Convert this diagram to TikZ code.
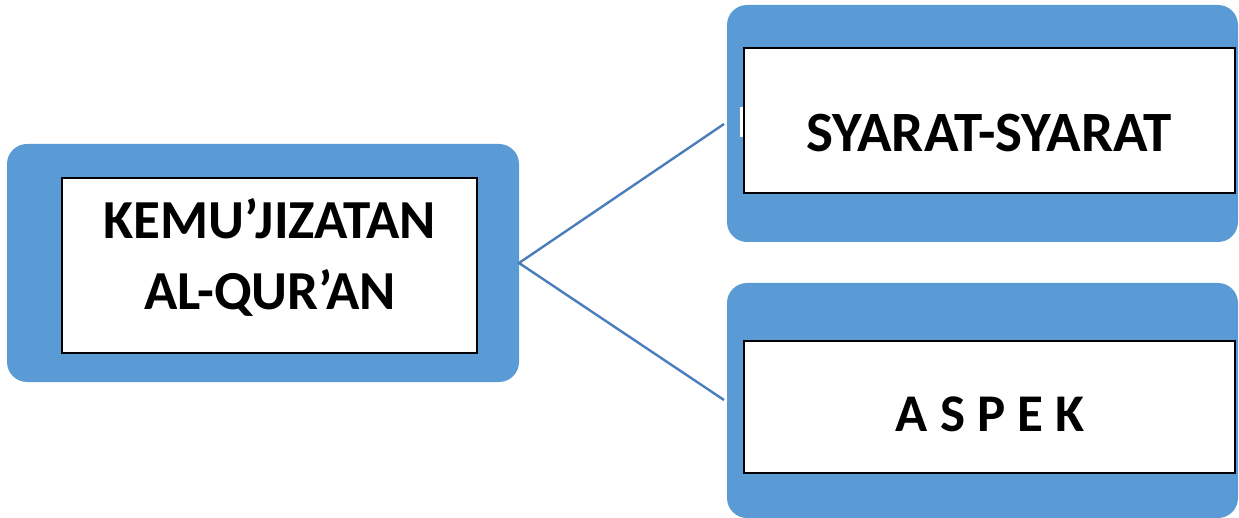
\documentclass[tikz,border=0pt]{standalone}
\usepackage{fontspec}
\setmainfont{Carlito}
\definecolor{panelblue}{HTML}{5B9BD5}
\definecolor{linkblue}{HTML}{4A7EBB}
\begin{document}
\begin{tikzpicture}[x=1pt,y=-1pt,
  panel/.style={fill=panelblue,draw=none,rounded corners=20pt,inner sep=0pt,outer sep=0pt},
  card/.style={fill=white,draw=black,line width=2pt,inner sep=0pt,outer sep=0pt},
  label/.style={font=\fontsize{55}{71}\selectfont\bfseries,align=center,inner sep=0pt},
  link/.style={draw=linkblue,line width=2.4pt}]
\useasboundingbox (0,0) rectangle (1239,518);

% left panel
\node[panel,minimum width=512pt,minimum height=238pt] (main) at (263,263) {};
\node[card,minimum width=415pt,minimum height=175pt] (maincard) at (269.5,265.5) {};
\node[label] (maintext) at (270,257) {KEMU’JIZATAN\\AL-QUR’AN};

% upper right panel
\node[panel,minimum width=511pt,minimum height=237pt] (syarat) at (982.5,123.5) {};
\node[card,minimum width=491pt,minimum height=145pt] (syaratcard) at (989.5,120.5) {};
\node[fill=white,minimum width=3pt,minimum height=30pt,inner sep=0pt] (tick) at (741.5,122) {};
\node[label,font=\fontsize{57}{60}\selectfont\bfseries] (syarattext) at (989,133) {SYARAT-SYARAT};

% lower right panel
\node[panel,minimum width=511pt,minimum height=235pt] (aspek) at (982.5,400.5) {};
\node[card,minimum width=491pt,minimum height=132pt] (aspekcard) at (989.5,407) {};
\node[label,font=\fontsize{53}{60}\selectfont\bfseries] (aspektext) at (990,414) {A S P E K};

% connectors
\coordinate (hub) at (main.east);
\coordinate (toS) at (724,124);
\coordinate (toA) at (724,400);
\draw[link] (toS) -- (hub) -- (toA);
\end{tikzpicture}
\end{document}
